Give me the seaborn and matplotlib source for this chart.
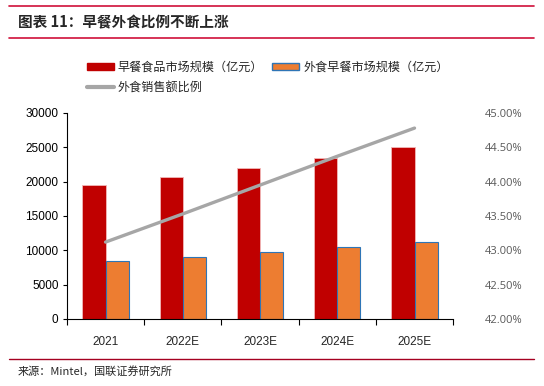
import pandas as pd
import seaborn as sns
import matplotlib.pyplot as plt
from matplotlib.patches import Patch
from matplotlib.lines import Line2D
from matplotlib.ticker import FuncFormatter

# Data
years = ["2021", "2022E", "2023E", "2024E", "2025E"]
breakfast_market = [19500, 20700, 22000, 23400, 25000]   # 早餐食品市场规模（亿元）
eatout_market = [8400, 9000, 9700, 10500, 11200]         # 外食早餐市场规模（亿元）
eatout_ratio = [43.12, 43.53, 43.95, 44.37, 44.78]       # 外食销售额比例 (%)

name_a = "早餐食品市场规模（亿元）"
name_b = "外食早餐市场规模（亿元）"
name_c = "外食销售额比例"

RED = "#C00000"
ORANGE = "#ED7D31"
GRAY = "#A6A6A6"

sns.set_theme(style="white")
plt.rcParams['font.family'] = ['Liberation Sans', 'Noto Sans CJK SC', 'DejaVu Sans']
CJK = ['Noto Sans CJK SC', 'DejaVu Sans']

df = pd.DataFrame({
    "year": years * 2,
    "value": breakfast_market + eatout_market,
    "series": [name_a] * len(years) + [name_b] * len(years),
})

fig = plt.figure(figsize=(5.44, 3.86), dpi=100)
ax = fig.add_axes([0.123, 0.1736, 0.71, 0.5337])

sns.barplot(data=df, x="year", y="value", hue="series", palette=[RED, ORANGE],
            width=0.6, gap=0, ax=ax, legend=False, saturation=1)

# bar edges like the original
n = len(years)
for i, p in enumerate(ax.patches[:2 * n]):
    if i < n:
        p.set_edgecolor("#F2B8B8")
        p.set_linewidth(0.6)
    else:
        p.set_edgecolor("#2E75B6")
        p.set_linewidth(0.8)

ax.set_ylim(0, 30000)
ax.set_yticks(range(0, 30001, 5000))
ax.set_xlim(-0.5, n - 0.5)
ax.set_xlabel("")
ax.set_ylabel("")
for s in ["top", "right"]:
    ax.spines[s].set_visible(False)
ax.spines["left"].set_color("black")
ax.spines["bottom"].set_color("black")
ax.spines["left"].set_linewidth(0.8)
ax.spines["bottom"].set_linewidth(0.8)
ax.tick_params(axis="y", left=True, length=3, width=0.8, labelsize=8.5, pad=3, colors="black")
ax.tick_params(axis="x", bottom=False, labelsize=8.5, pad=6)
# tick marks between categories
ax.set_xticks([i + 0.5 for i in range(-1, n)], minor=True)
ax.tick_params(axis="x", which="minor", bottom=True, length=4, width=0.8, color="black")

ax2 = ax.twinx()
sns.lineplot(x=list(range(n)), y=eatout_ratio, color=GRAY, linewidth=2.4, ax=ax2)
ax2.set_ylim(42, 45)
ax2.set_yticks([42 + 0.5 * i for i in range(7)])
ax2.yaxis.set_major_formatter(FuncFormatter(lambda v, _: f"{v:.2f}%"))
ax2.tick_params(axis="y", right=False, labelsize=8, pad=17, labelcolor="#595959")
for lab in ax2.get_yticklabels():
    lab.set_family(["Open Sans", "DejaVu Sans"])
for s in ["top", "right", "left", "bottom"]:
    ax2.spines[s].set_visible(False)
ax2.set_xlim(-0.5, n - 0.5)

# legend
handles = [
    Patch(facecolor=RED, edgecolor=RED),
    Line2D([0], [0], color=GRAY, linewidth=3),
    Patch(facecolor=ORANGE, edgecolor="#2E75B6"),
]
labels = [name_a, name_c, name_b]
fig.legend(handles, labels, ncol=2, loc="upper left", bbox_to_anchor=(87 / 544, 1 - 61 / 386),
           borderpad=0, borderaxespad=0,
           frameon=False, prop={"family": CJK, "size": 8.7}, handlelength=2.2,
           handleheight=0.5, handletextpad=0.35, columnspacing=0.75, labelspacing=0.6)

# title, rules and source
x0, x1 = 9 / 544, 534 / 544
fig.add_artist(Line2D([x0, x1], [1 - 6 / 386, 1 - 6 / 386], color="#D0103A", linewidth=1.2))
fig.add_artist(Line2D([x0, x1], [1 - 38 / 386, 1 - 38 / 386], color="#D0103A", linewidth=1.2))
fig.text(18 / 544, 1 - 22 / 386, "图表 11：早餐外食比例不断上涨", family=CJK, fontsize=10.5,
         fontweight="bold", style="italic", va="center", ha="left")
fig.add_artist(Line2D([x0, x1], [1 - 359 / 386, 1 - 359 / 386], color="#A50021", linewidth=1.0))
fig.text(18 / 544, 1 - 371 / 386, "来源：Mintel，国联证券研究所", family=CJK, fontsize=8,
         va="center", ha="left")

fig.savefig("out.png", dpi=100)
